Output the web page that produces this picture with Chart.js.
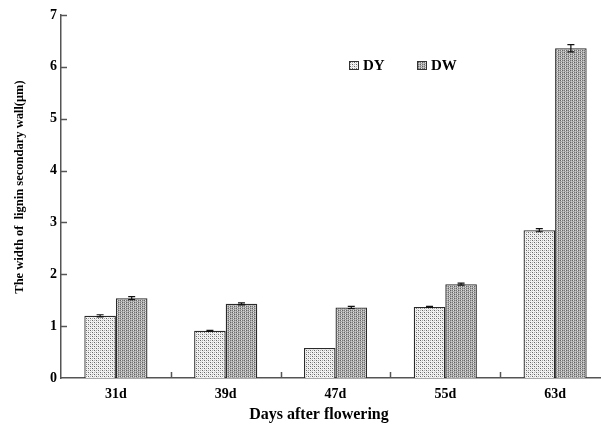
<!DOCTYPE html>
<html>
<head>
<meta charset="utf-8">
<script src="https://cdn.jsdelivr.net/npm/chart.js@4/dist/chart.umd.min.js"></script>
<style>
  html, body { margin: 0; padding: 0; overflow: hidden; background: #fff; }
</style>
</head>
<body>
<canvas id="chart" width="610" height="427"></canvas>
<script>
// data
const days = ['31d', '39d', '47d', '55d', '63d'];
const dyValues = [1.20, 0.91, 0.58, 1.37, 2.85];
const dwValues = [1.54, 1.43, 1.36, 1.81, 6.36];
const dyErrors = [0.02, 0.01, 0.00, 0.01, 0.03];
const dwErrors = [0.03, 0.02, 0.02, 0.02, 0.07];
const yTicks = [0, 1, 2, 3, 4, 5, 6, 7];

const serif = "'Times New Roman', 'Liberation Serif', serif";

// dotted fills like the original print
function makePattern(bg, dots) {
    const tile = document.createElement('canvas');
    tile.width = 4;
    tile.height = 4;
    const t = tile.getContext('2d');
    t.fillStyle = bg;
    t.fillRect(0, 0, 4, 4);
    dots.forEach(d => {
        t.fillStyle = d[2];
        t.fillRect(d[0], d[1], 1, 1);
    });
    return document.getElementById('chart').getContext('2d').createPattern(tile, 'repeat');
}

const dyFill = makePattern('#f4f4f4', [
    [0, 0, '#666666'], [2, 2, '#666666'], [2, 0, '#a8a8a8'], [0, 2, '#a8a8a8'],
    [1, 1, '#dcdcdc'], [3, 3, '#dcdcdc']
]);
const dwFill = makePattern('#a8a8a8', [
    [0, 0, '#626262'], [2, 2, '#626262'], [0, 2, '#767676'], [2, 0, '#767676'],
    [1, 0, '#e2e2e2'], [1, 2, '#e2e2e2'], [3, 1, '#cecece'], [3, 3, '#cecece']
]);

const errorsBySet = [dyErrors, dwErrors];

const extras = {
    id: 'extras',
    afterDatasetsDraw(chart) {
        const ctx = chart.ctx;
        const y = chart.scales.y;
        const x = chart.scales.x;
        const area = chart.chartArea;
        ctx.save();

        // error bars
        ctx.strokeStyle = '#111';
        ctx.lineWidth = 1.2;
        chart.data.datasets.forEach((ds, di) => {
            const meta = chart.getDatasetMeta(di);
            meta.data.forEach((bar, i) => {
                const e = errorsBySet[di][i];
                if (!e) return;
                const top = y.getPixelForValue(ds.data[i] + e);
                const bot = y.getPixelForValue(ds.data[i] - e);
                ctx.beginPath();
                ctx.moveTo(bar.x, top);
                ctx.lineTo(bar.x, bot);
                ctx.moveTo(bar.x - 3.5, top);
                ctx.lineTo(bar.x + 3.5, top);
                ctx.moveTo(bar.x - 3.5, bot);
                ctx.lineTo(bar.x + 3.5, bot);
                ctx.stroke();
            });
        });

        // inward tick marks
        ctx.strokeStyle = '#555';
        ctx.lineWidth = 1.5;
        yTicks.forEach(v => {
            if (v === 0) return;
            const py = Math.round(y.getPixelForValue(v)) + 0.5;
            ctx.beginPath();
            ctx.moveTo(area.left, py);
            ctx.lineTo(area.left + 6, py);
            ctx.stroke();
        });
        for (let i = 1; i < days.length; i++) {
            const px = Math.round((x.getPixelForValue(i - 1) + x.getPixelForValue(i)) / 2) + 0.5;
            ctx.beginPath();
            ctx.moveTo(px, area.bottom);
            ctx.lineTo(px, area.bottom - 6);
            ctx.stroke();
        }

        // legend inside the plot
        const items = [
            { label: chart.data.datasets[0].label, fill: dyFill, bx: area.left + 288 },
            { label: chart.data.datasets[1].label, fill: dwFill, bx: area.left + 356 }
        ];
        ctx.font = 'bold 15px ' + serif;
        ctx.textBaseline = 'middle';
        ctx.textAlign = 'left';
        items.forEach(it => {
            ctx.fillStyle = it.fill;
            ctx.fillRect(it.bx, 61, 10, 9);
            ctx.strokeStyle = '#333';
            ctx.lineWidth = 1;
            ctx.strokeRect(it.bx + 0.5, 61.5, 9, 8);
            ctx.fillStyle = '#000';
            ctx.fillText(it.label, it.bx + 14, 66);
        });

        // axis titles
        ctx.fillStyle = '#000';
        ctx.textAlign = 'center';
        ctx.font = 'bold 16px ' + serif;
        ctx.fillText('Days after flowering', 319, 415);

        ctx.save();
        ctx.translate(20, 187);
        ctx.rotate(-Math.PI / 2);
        ctx.font = 'bold 12.5px ' + serif;
        ctx.fillText('The width of  lignin secondary wall(\u03bcm)', 0, 0);
        ctx.restore();

        ctx.restore();
    }
};

new Chart(document.getElementById('chart'), {
    type: 'bar',
    data: {
        labels: days,
        datasets: [
            {
                label: 'DY',
                data: dyValues,
                backgroundColor: dyFill,
                borderColor: '#2a2a2a',
                borderWidth: 1.3
            },
            {
                label: 'DW',
                data: dwValues,
                backgroundColor: dwFill,
                borderColor: '#2a2a2a',
                borderWidth: 1.3
            }
        ]
    },
    options: {
        responsive: false,
        animation: false,
        layout: { padding: { top: 15, right: 0, left: 0, bottom: 0 } },
        datasets: {
            bar: { categoryPercentage: 0.575, barPercentage: 1 }
        },
        plugins: {
            legend: { display: false },
            tooltip: { enabled: false }
        },
        scales: {
            x: {
                grid: { display: false, drawTicks: false },
                border: { display: true, color: '#555', width: 1.5 },
                ticks: {
                    color: '#000',
                    padding: 8,
                    font: { family: serif, size: 14, weight: 'bold' }
                },
                afterFit: scale => { scale.height = 49; }
            },
            y: {
                min: 0,
                max: 7,
                grid: { display: false, drawTicks: false },
                border: { display: true, color: '#555', width: 1.5 },
                ticks: {
                    stepSize: 1,
                    color: '#000',
                    padding: 4,
                    font: { family: serif, size: 14, weight: 'bold' }
                },
                afterFit: scale => { scale.width = 61; }
            }
        }
    },
    plugins: [extras]
});
</script>
</body>
</html>
